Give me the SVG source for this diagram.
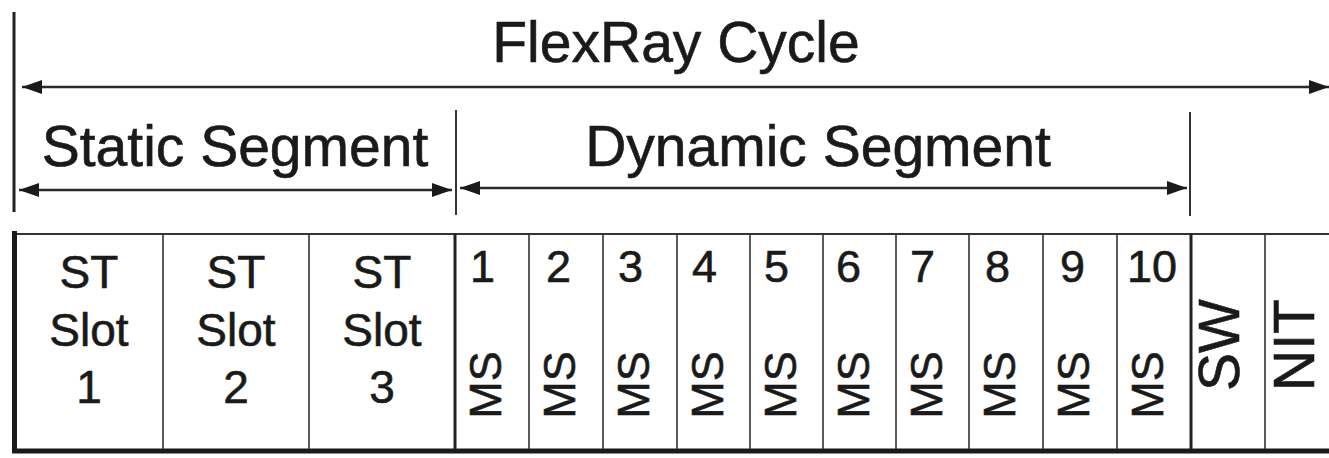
<svg xmlns="http://www.w3.org/2000/svg" width="1329" height="458" viewBox="0 0 1329 458">
<defs>
<marker id="ah" markerUnits="userSpaceOnUse" markerWidth="20" markerHeight="14" refX="20" refY="7" orient="auto-start-reverse">
<path d="M0,0 L20,7 L0,14 z" fill="#1a1a1a"/>
</marker>
<style>
text{font-family:"Liberation Sans",Arial,sans-serif;fill:#1a1a1a;stroke:#1a1a1a;stroke-width:0.6}
.h{font-size:57px;text-anchor:middle}
.st{font-size:46px;text-anchor:middle}
.n{font-size:45px}
.ms{font-size:45px;text-anchor:middle}
.big{font-size:57px;text-anchor:middle}
.arrow{stroke:#2a2a2a;stroke-width:2.5;fill:none;marker-start:url(#ah);marker-end:url(#ah)}
.tick{stroke:#333;stroke-width:2;fill:none}
.cell{stroke:#333;stroke-width:1.6;fill:none}
</style>
</defs>
<rect width="1329" height="458" fill="#fff"/>
<g id="connectors">
<line x1="14" y1="12" x2="14" y2="212" stroke="#222" stroke-width="3"/>
<line x1="456" y1="110" x2="456" y2="215" class="tick"/>
<line x1="1190" y1="112" x2="1190" y2="216" class="tick"/>
<line class="arrow" x1="22" y1="87" x2="1329" y2="87"/>
<line class="arrow" x1="19" y1="190" x2="452" y2="190"/>
<line class="arrow" x1="460" y1="188" x2="1187" y2="188"/>
</g>
<g id="labels">
<text class="h" x="676" y="62">FlexRay Cycle</text>
<text class="h" x="235" y="166">Static Segment</text>
<text class="h" x="818" y="166">Dynamic Segment</text>
</g>
<g id="frame">
<line x1="14" y1="234" x2="1329" y2="234" stroke="#333" stroke-width="2"/>
<line x1="12" y1="451" x2="1329" y2="451" stroke="#1a1a1a" stroke-width="5"/>
<line x1="14.5" y1="231" x2="14.5" y2="453" stroke="#1a1a1a" stroke-width="5"/>
</g>
<g id="st1"><line class="cell" x1="163" y1="234" x2="163" y2="449"/><text class="st" x="89" y="288">ST</text><text class="st" x="89" y="346">Slot</text><text class="st" x="89" y="403">1</text></g>
<g id="st2"><line class="cell" x1="309" y1="234" x2="309" y2="449"/><text class="st" x="236" y="288">ST</text><text class="st" x="236" y="346">Slot</text><text class="st" x="236" y="403">2</text></g>
<g id="st3"><line x1="455" y1="234" x2="455" y2="449" stroke="#222" stroke-width="3"/><text class="st" x="382" y="288">ST</text><text class="st" x="382" y="346">Slot</text><text class="st" x="382" y="403">3</text></g>
<g id="ms1"><line class="cell" x1="529" y1="234" x2="529" y2="449"/><text class="n" x="470" y="282">1</text><text class="ms" transform="translate(501,385) rotate(-90)">MS</text></g>
<g id="ms2"><line class="cell" x1="603" y1="234" x2="603" y2="449"/><text class="n" x="546" y="282">2</text><text class="ms" transform="translate(575,385) rotate(-90)">MS</text></g>
<g id="ms3"><line class="cell" x1="677" y1="234" x2="677" y2="449"/><text class="n" x="618" y="282">3</text><text class="ms" transform="translate(649,385) rotate(-90)">MS</text></g>
<g id="ms4"><line class="cell" x1="750" y1="234" x2="750" y2="449"/><text class="n" x="692" y="282">4</text><text class="ms" transform="translate(723,385) rotate(-90)">MS</text></g>
<g id="ms5"><line class="cell" x1="823" y1="234" x2="823" y2="449"/><text class="n" x="764" y="282">5</text><text class="ms" transform="translate(796,385) rotate(-90)">MS</text></g>
<g id="ms6"><line class="cell" x1="896" y1="234" x2="896" y2="449"/><text class="n" x="836" y="282">6</text><text class="ms" transform="translate(869,385) rotate(-90)">MS</text></g>
<g id="ms7"><line class="cell" x1="969" y1="234" x2="969" y2="449"/><text class="n" x="910" y="282">7</text><text class="ms" transform="translate(942,385) rotate(-90)">MS</text></g>
<g id="ms8"><line class="cell" x1="1043" y1="234" x2="1043" y2="449"/><text class="n" x="985" y="282">8</text><text class="ms" transform="translate(1015,385) rotate(-90)">MS</text></g>
<g id="ms9"><line class="cell" x1="1117" y1="234" x2="1117" y2="449"/><text class="n" x="1060" y="282">9</text><text class="ms" transform="translate(1089,385) rotate(-90)">MS</text></g>
<g id="ms10"><line x1="1191" y1="234" x2="1191" y2="449" stroke="#222" stroke-width="3"/><text class="n" x="1127" y="282">10</text><text class="ms" transform="translate(1163,385) rotate(-90)">MS</text></g>
<g id="sw"><line class="cell" x1="1265" y1="234" x2="1265" y2="449"/><text class="big" transform="translate(1239,345) rotate(-90)">SW</text></g>
<g id="nit"><text class="big" transform="translate(1314,345) rotate(-90)">NIT</text></g>
</svg>
